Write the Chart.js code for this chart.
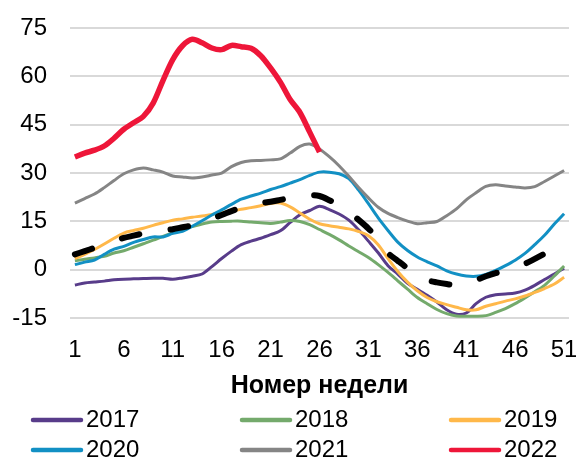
<!DOCTYPE html>
<html>
<head>
<meta charset="utf-8">
<script src="https://cdn.jsdelivr.net/npm/chart.js@4.4.1/dist/chart.umd.min.js"></script>
<style>
  html, body { margin: 0; padding: 0; background: #fff; }
  #wrap { width: 576px; height: 460px; }
</style>
</head>
<body>
<div id="wrap"><canvas id="chart" width="576" height="460"></canvas></div>
<script>
// Номера недель
const weeks = [1,2,3,4,5,6,7,8,9,10,11,12,13,14,15,16,17,18,19,20,21,22,23,24,25,26,
               27,28,29,30,31,32,33,34,35,36,37,38,39,40,41,42,43,44,45,46,47,48,49,50,51];
const xTickLabels = [1, 6, 11, 16, 21, 26, 31, 36, 41, 46, 51];
const yTicks = [-15, 0, 15, 30, 45, 60, 75];

const y2017 = [-4.7,-4.1,-3.8,-3.5,-3.1,-2.9,-2.8,-2.7,-2.6,-2.6,-2.9,-2.5,-2.0,-1.3,1.0,3.5,5.8,7.8,8.9,9.8,
               10.9,12.1,14.7,17.1,18.4,19.7,18.7,17.3,15.4,12.4,8.9,5.3,1.3,-1.3,-4.2,-6.0,-7.9,-10.0,-12.4,-13.8,
               -13.4,-10.5,-8.5,-7.7,-7.5,-7.2,-6.3,-4.8,-3.0,-1.3,0.5];
const y2018 = [2.8,3.3,3.7,4.2,5.2,5.9,7.0,8.1,9.2,10.4,11.5,12.6,13.4,14.2,14.8,15.0,15.1,15.1,14.8,14.6,
               14.4,14.8,15.3,15.0,14.0,12.5,11.0,9.3,7.4,5.6,3.8,1.6,-0.8,-3.4,-6.0,-8.6,-10.5,-12.3,-13.6,-14.3,
               -14.4,-14.4,-14.2,-13.2,-12.0,-10.5,-8.7,-6.8,-4.8,-1.9,1.2];
const y2019 = [3.5,4.8,6.3,8.0,9.8,11.4,12.2,12.9,13.8,14.6,15.4,15.8,16.3,16.7,17.2,17.7,18.2,18.8,19.3,19.9,
               20.6,20.7,19.5,17.6,15.7,14.3,13.7,13.2,12.7,11.9,10.6,7.8,3.5,-0.5,-3.8,-6.5,-8.6,-9.9,-10.8,-11.6,
               -12.4,-12.4,-11.3,-10.5,-9.7,-9.0,-8.1,-7.0,-5.8,-4.4,-2.3];
const y2020 = [1.6,2.4,3.0,4.8,6.4,7.3,8.5,9.4,10.2,10.2,11.3,11.9,13.5,15.2,17.0,18.6,20.3,21.9,22.9,23.8,
               24.9,25.8,26.9,28.0,29.3,30.3,30.3,29.8,28.3,24.7,20.5,16.1,12.2,8.6,6.0,4.0,2.5,1.2,-0.3,-1.3,
               -1.9,-2.0,-1.4,-0.2,1.3,3.0,5.1,7.8,10.7,14.2,17.4];
const y2021 = [20.7,22.1,23.5,25.5,27.7,29.8,31.0,31.6,31.0,30.3,29.1,28.8,28.5,28.8,29.4,30.0,32.0,33.3,33.8,33.9,
               34.1,34.4,36.2,38.3,39.0,37.5,35.1,32.3,29.0,25.5,22.3,19.4,17.5,16.2,15.1,14.3,14.6,15.0,16.8,18.9,
               21.7,23.9,25.9,26.4,26.0,25.7,25.4,25.8,27.4,29.1,30.8];
const y2022 = [35.0,36.2,37.1,38.4,40.8,43.6,45.6,47.6,51.7,58.7,65.2,69.5,71.5,70.4,68.8,68.3,69.6,69.2,68.7,66.4,
               62.6,58.2,52.8,48.8,42.7,36.5];
// Среднее (пунктир, без подписи в легенде)
const yAvg = [4.8,5.8,6.8,7.8,8.8,9.9,10.6,11.3,11.8,12.2,12.6,13.2,13.8,14.8,15.9,17.0,18.2,19.3,20.2,20.7,
              21.1,21.7,22.3,22.8,23.2,22.9,21.6,20.0,18.0,15.5,12.8,9.5,5.2,2.8,0.5,-1.5,-3.2,-3.9,-4.4,-4.8,
              -4.4,-3.2,-2.0,-1.0,-0.2,1.0,1.9,3.4,5.0,6.7,8.3];

const FONT = "'Liberation Sans', Arial, sans-serif";

function line(label, data, color, width, order) {
    return {
        label: label,
        data: data,
        borderColor: color,
        backgroundColor: color,
        borderWidth: width,
        pointRadius: 0,
        pointHoverRadius: 0,
        tension: 0.3,
        fill: false,
        order: order
    };
}

const datasets = [
    line('2017', y2017, '#583c8a', 3, 7),
    line('2018', y2018, '#74aa6c', 3, 6),
    line('2019', y2019, '#ffb84a', 3, 5),
    line('2020', y2020, '#1290c4', 3, 4),
    line('2021', y2021, '#858585', 3, 3),
    line('2022', y2022, '#ee1639', 5.5, 2),
    Object.assign(line('', yAvg, '#000000', 6, 1), {
        borderDash: [18, 31.5],
        borderCapStyle: 'round',
        noLegend: true
    })
];

// Легенда в три колонки под осью
const gridLegend = {
    id: 'gridLegend',
    afterDraw(chart) {
        const ctx = chart.ctx;
        const cols = [31, 240, 449];
        const rows = [420, 450];
        let k = 0;
        ctx.save();
        chart.data.datasets.forEach(ds => {
            if (ds.noLegend) return;
            const x = cols[k % 3];
            const y = rows[Math.floor(k / 3)];
            ctx.strokeStyle = ds.borderColor;
            ctx.lineWidth = 4.5;
            ctx.lineCap = 'round';
            ctx.beginPath();
            ctx.moveTo(x + 2, y);
            ctx.lineTo(x + 50, y);
            ctx.stroke();
            ctx.fillStyle = '#000';
            ctx.font = '24px ' + FONT;
            ctx.textBaseline = 'middle';
            ctx.textAlign = 'left';
            ctx.fillText(ds.label, x + 55, y);
            k++;
        });
        ctx.restore();
    }
};

new Chart(document.getElementById('chart'), {
    type: 'line',
    data: { labels: weeks, datasets: datasets },
    plugins: [gridLegend],
    options: {
        responsive: false,
        animation: false,
        layout: { padding: { top: 28, right: 7, bottom: 59, left: 0 } },
        plugins: {
            legend: { display: false },
            tooltip: { enabled: false }
        },
        scales: {
            x: {
                offset: true,
                grid: { display: false, drawTicks: false },
                border: { display: false },
                afterFit: function(scale) {
                    // подписи крайних недель могут выходить за область графика
                    scale.paddingLeft = 0;
                    scale.paddingRight = 0;
                },
                ticks: {
                    autoSkip: false,
                    maxRotation: 0,
                    padding: 18,
                    color: '#000',
                    font: { family: FONT, size: 24 },
                    callback: function(value, index) {
                        const w = weeks[index];
                        return xTickLabels.includes(w) ? String(w) : '';
                    }
                },
                title: {
                    display: true,
                    text: 'Номер недели',
                    color: '#000',
                    font: { family: FONT, size: 25, weight: 'bold' },
                    padding: { top: -12, bottom: 0 }
                }
            },
            y: {
                min: yTicks[0],
                max: yTicks[yTicks.length - 1],
                afterFit: function(scale) {
                    scale.width = 70;
                    scale.paddingTop = 0;
                    scale.paddingBottom = 0;
                },
                afterBuildTicks: function(scale) {
                    scale.ticks = yTicks.map(v => ({ value: v }));
                },
                grid: { color: '#d9d9d9', lineWidth: 2, drawTicks: false },
                border: { display: false },
                ticks: {
                    padding: 23,
                    color: '#000',
                    font: { family: FONT, size: 24 }
                }
            }
        }
    }
});
</script>
</body>
</html>
